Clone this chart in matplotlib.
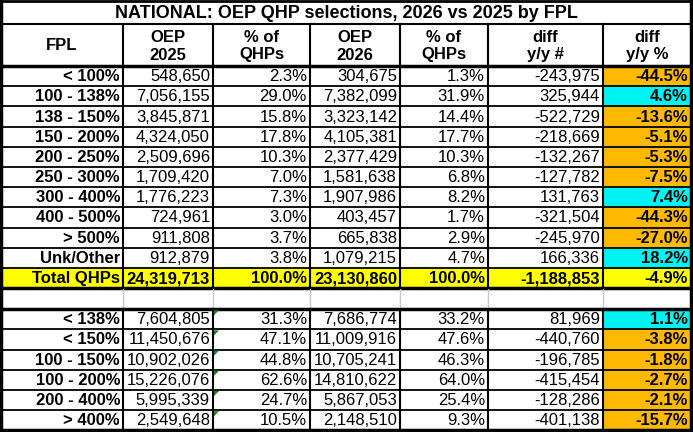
import matplotlib.pyplot as plt
from matplotlib.patches import Rectangle, Polygon

plt.rcParams['font.family'] = ['Liberation Sans', 'DejaVu Sans']

# Table data
title = "NATIONAL: OEP QHP selections, 2026 vs 2025 by FPL"
headers = ["FPL", "OEP\n2025", "% of\nQHPs", "OEP\n2026", "% of\nQHPs", "diff\ny/y #", "diff\ny/y %"]

fpl = ["< 100%", "100 - 138%", "138 - 150%", "150 - 200%", "200 - 250%",
       "250 - 300%", "300 - 400%", "400 - 500%", "> 500%", "Unk/Other"]
oep25 = [548650, 7056155, 3845871, 4324050, 2509696, 1709420, 1776223, 724961, 911808, 912879]
pct25 = [2.3, 29.0, 15.8, 17.8, 10.3, 7.0, 7.3, 3.0, 3.7, 3.8]
oep26 = [304675, 7382099, 3323142, 4105381, 2377429, 1581638, 1907986, 403457, 665838, 1079215]
pct26 = [1.3, 31.9, 14.4, 17.7, 10.3, 6.8, 8.2, 1.7, 2.9, 4.7]
diff = [-243975, 325944, -522729, -218669, -132267, -127782, 131763, -321504, -245970, 166336]
diffpct = [-44.5, 4.6, -13.6, -5.1, -5.3, -7.5, 7.4, -44.3, -27.0, 18.2]

total = ["Total QHPs", 24319713, 100.0, 23130860, 100.0, -1188853, -4.9]

grp = ["< 138%", "< 150%", "100 - 150%", "100 - 200%", "200 - 400%", "> 400%"]
g25 = [7604805, 11450676, 10902026, 15226076, 5995339, 2549648]
gp25 = [31.3, 47.1, 44.8, 62.6, 24.7, 10.5]
g26 = [7686774, 11009916, 10705241, 14810622, 5867053, 2148510]
gp26 = [33.2, 47.6, 46.3, 64.0, 25.4, 9.3]
gdiff = [81969, -440760, -196785, -415454, -128286, -401138]
gdp = [1.1, -3.8, -1.8, -2.7, -2.1, -15.7]

# layout in pixels
col_edges = [1, 123, 213, 310, 400, 488, 603, 691]
title_h = 24
head_h = 42
row_h = 20.2
blank_h = 21

ORANGE = "#FFBA00"
CYAN = "#00F2F2"
YELLOW = "#FFFF00"

fig = plt.figure(figsize=(6.93, 4.32), dpi=100)
ax = fig.add_axes([0, 0, 1, 1])
ax.set_xlim(0, 693)
ax.set_ylim(432, 0)
ax.axis('off')


def fmt_num(v):
    return f"{v:,}"


def fmt_pct(v):
    return f"{v:.1f}%"


def draw_row(y0, vals, bold_all=False, fill=None):
    texts = [vals[0], fmt_num(vals[1]), fmt_pct(vals[2]), fmt_num(vals[3]),
             fmt_pct(vals[4]), fmt_num(vals[5]), fmt_pct(vals[6])]
    for c in range(7):
        x0, x1 = col_edges[c], col_edges[c + 1]
        fc = fill
        if fc is None and c == 6:
            fc = CYAN if vals[6] > 0 else ORANGE
        if fc is not None:
            ax.add_patch(Rectangle((x0, y0), x1 - x0, row_h, facecolor=fc, edgecolor='none', zorder=1))
        bold = bold_all or c in (0, 6)
        ax.text(x1 - 3, y0 + row_h / 2 + 0.5, texts[c], ha='right', va='center',
                fontsize=12, fontweight='bold' if bold else 'normal', zorder=3)
    ax.plot([col_edges[0], col_edges[-1]], [y0 + row_h, y0 + row_h], color='black', lw=1.3, zorder=2)


# title
ax.text((col_edges[0] + col_edges[-1]) / 2, title_h / 2 + 1, title, ha='center', va='center',
        fontsize=13, fontweight='bold')
ax.plot([col_edges[0], col_edges[-1]], [title_h, title_h], color='black', lw=1.5)

# header
y = title_h
for c in range(7):
    ax.text((col_edges[c] + col_edges[c + 1]) / 2, y + head_h / 2 + 1, headers[c],
            ha='center', va='center', fontsize=12, fontweight='bold', linespacing=1.25)
y += head_h
ax.plot([col_edges[0], col_edges[-1]], [y, y], color='black', lw=2.5)
top1 = title_h

for i in range(len(fpl)):
    draw_row(y, [fpl[i], oep25[i], pct25[i], oep26[i], pct26[i], diff[i], diffpct[i]])
    y += row_h
draw_row(y, total, bold_all=True, fill=YELLOW)
y += row_h
ax.plot([col_edges[0], col_edges[-1]], [y, y], color='black', lw=2.5)
bottom1 = y

# blank separator row with light grid
for x in col_edges[1:-1]:
    ax.plot([x, x], [y, y + blank_h], color='#c8c8c8', lw=1.0)
y += blank_h
ax.plot([col_edges[0], col_edges[-1]], [y, y], color='black', lw=2.5)
top2 = y

for i in range(len(grp)):
    draw_row(y, [grp[i], g25[i], gp25[i], g26[i], gp26[i], gdiff[i], gdp[i]])
    # green error indicator in the % column
    xg, yg = col_edges[2] + 1, y + 1
    ax.add_patch(Polygon([[xg, yg], [xg + 5, yg], [xg, yg + 5]], closed=True,
                         facecolor='#1f7a2e', edgecolor='none', zorder=4))
    y += row_h
bottom2 = y

# vertical lines
for x in col_edges[1:-1]:
    ax.plot([x, x], [top1, bottom1], color='black', lw=1.5, zorder=2)
    ax.plot([x, x], [top2, bottom2], color='black', lw=1.5, zorder=2)
ax.plot([col_edges[0], col_edges[0]], [0.5, bottom2], color='black', lw=2.5, zorder=5)
ax.plot([col_edges[-1], col_edges[-1]], [0.5, bottom2], color='black', lw=2.5, zorder=5)
ax.plot([col_edges[0], col_edges[-1]], [0.8, 0.8], color='black', lw=2.0, zorder=5)
ax.plot([col_edges[0], col_edges[-1]], [bottom2, bottom2], color='black', lw=2.5, zorder=5)

fig.savefig("out.png", dpi=100)
